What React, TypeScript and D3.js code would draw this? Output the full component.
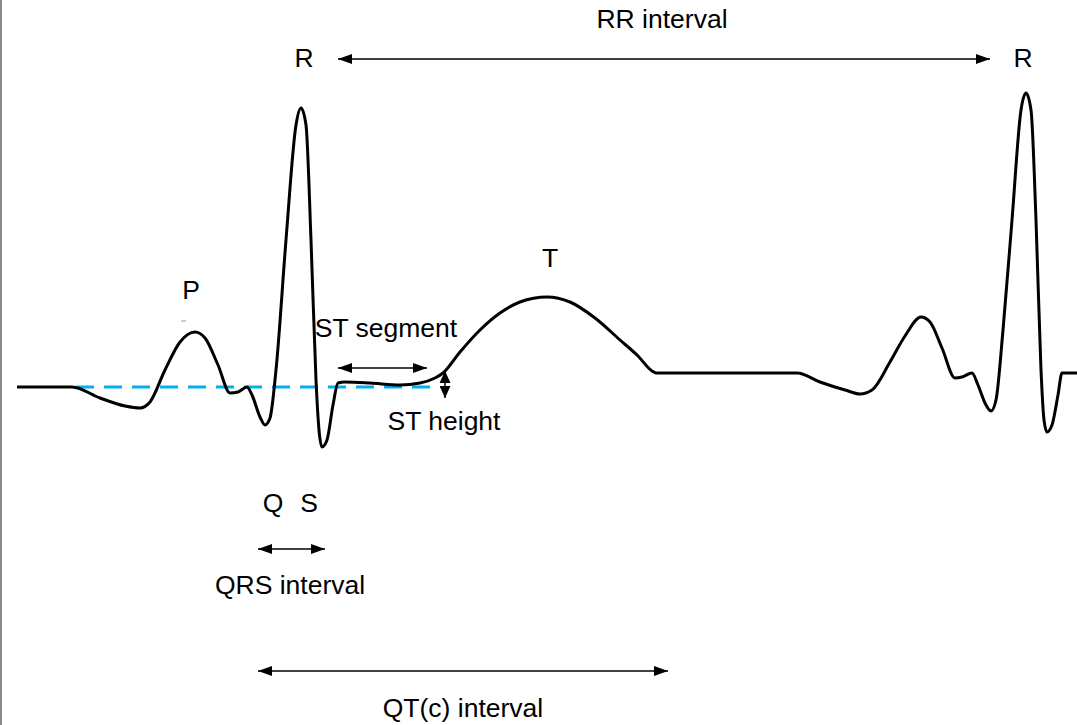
import React from "react";
import * as d3 from "d3";

// ECG trace sample points (time units, amplitude units; baseline amplitude 0)
const traceTime = [17, 72, 100, 125, 140, 150, 165, 180, 195, 205, 218, 230, 238, 247, 252, 260, 265, 270, 276, 286, 296, 301, 306, 311, 316, 319, 322, 327, 333, 338, 345, 370, 400, 420, 435, 443, 460, 480, 500, 520, 547, 570, 595, 620, 638, 652, 656, 797, 820, 845, 860, 872, 890, 905, 921, 930, 942, 955, 962, 972, 978, 985, 991, 996, 1003, 1012, 1021, 1026, 1031, 1036, 1041, 1044, 1047, 1052, 1058, 1062, 1077];
const traceAmp = [0, 0, -11, -19, -21, -15, 17, 45, 55, 49, 22, -6, -5, 0, -8, -30, -38, -31, 17, 147, 262, 279, 262, 147, 7, -43, -60, -53, -18, 4, 5, 4, 2, 4, 9, 14, 35, 57, 74, 85, 90, 85, 69, 47, 31, 16, 14, 14, 5, -3, -7, -3, 25, 51, 70, 65, 39, 9, 10, 14, 2, -16, -24, -13, 57, 167, 277, 294, 277, 167, 17, -33, -45, -38, -8, 14, 14];

// Reference (isoelectric) dashed line
const isoStart = 76;
const isoEnd = 440;

// Labels
const waveLabels = [
  { text: "R", t: 304, a: 320 },
  { text: "R", t: 1023, a: 320 },
  { text: "P", t: 191, a: 88 },
  { text: "T", t: 550, a: 120 },
];

// Interval annotations
const intervals = [
  { name: "RR interval", t0: 338, t1: 990, a: 328, labelT: 662, labelA: 359 },
  { name: "ST segment", t0: 338, t1: 427, a: 19, labelT: 386, labelA: 50 },
  { name: "QRS interval", t0: 258, t1: 325, a: -162, labelT: 290, labelA: -207 },
  { name: "QT(c) interval", t0: 258, t1: 668, a: -284, labelT: 463, labelA: -330 },
];
const stHeight = { t: 445, a0: 16, a1: -11, labelT: 444, labelA: -43 };
const qsLabels = [
  { text: "Q", t: 273 },
  { text: "S", t: 309 },
];
const qsLabelA = -125;

const W = 1077;
const H = 725;

export default function App() {
  const x = d3.scaleLinear().domain([0, 1077]).range([0, 1077]);
  const y = d3.scaleLinear().domain([-100, 300]).range([487, 87]);

  const pts: [number, number][] = traceTime.map((t, i) => [t, traceAmp[i]]);
  const line = d3
    .line<[number, number]>()
    .x((d) => x(d[0]))
    .y((d) => y(d[1]))
    .curve(d3.curveMonotoneX);

  const font = "'Liberation Sans', Arial, sans-serif";
  const fs = 26.5;

  return (
    <div style={{ position: "absolute", left: 0, top: 0 }}>
      <svg width={W} height={H} style={{ display: "block", background: "#fff" }}>
        <defs>
          <marker id="ah" viewBox="0 0 14 10" refX="14" refY="5" markerWidth="14" markerHeight="10" markerUnits="userSpaceOnUse" orient="auto-start-reverse">
            <path d="M0,0 L14,5 L0,10 Z" fill="#000" />
          </marker>
          <marker id="ahs" viewBox="0 0 12 11" refX="12" refY="5.5" markerWidth="12" markerHeight="11" markerUnits="userSpaceOnUse" orient="auto-start-reverse">
            <path d="M0,0 L12,5.5 L0,11 Z" fill="#000" />
          </marker>
        </defs>
        <line x1={1} y1={0} x2={1} y2={H} stroke="#8a8a8a" strokeWidth={2} />

        <line x1={x(isoStart)} x2={x(isoEnd)} y1={y(0)} y2={y(0)} stroke="#00b0f0" strokeWidth={3} strokeDasharray="18 10" />

        <path d={line(pts) || ""} fill="none" stroke="#000" strokeWidth={3} strokeLinejoin="round" />

        {intervals.map((iv) => (
          <g key={iv.name}>
            <line x1={x(iv.t0)} x2={x(iv.t1)} y1={y(iv.a)} y2={y(iv.a)} stroke="#000" strokeWidth={1.5} markerStart="url(#ah)" markerEnd="url(#ah)" />
            <text x={x(iv.labelT)} y={y(iv.labelA)} textAnchor="middle" fontFamily={font} fontSize={fs} fill="#000">
              {iv.name}
            </text>
          </g>
        ))}

        <line x1={x(stHeight.t)} x2={x(stHeight.t)} y1={y(stHeight.a0)} y2={y(stHeight.a1)} stroke="#000" strokeWidth={1.5} markerStart="url(#ahs)" markerEnd="url(#ahs)" />
        <text x={x(stHeight.labelT)} y={y(stHeight.labelA)} textAnchor="middle" fontFamily={font} fontSize={fs} fill="#000">
          ST height
        </text>

        {waveLabels.map((l, i) => (
          <text key={i} x={x(l.t)} y={y(l.a)} textAnchor="middle" fontFamily={font} fontSize={fs} fill="#000">
            {l.text}
          </text>
        ))}
        <line x1={x(181)} x2={x(186)} y1={y(66)} y2={y(66)} stroke="#999" strokeWidth={1} />

        {qsLabels.map((l) => (
          <text key={l.text} x={x(l.t)} y={y(qsLabelA)} textAnchor="middle" fontFamily={font} fontSize={fs} fill="#000">
            {l.text}
          </text>
        ))}
      </svg>
    </div>
  );
}
